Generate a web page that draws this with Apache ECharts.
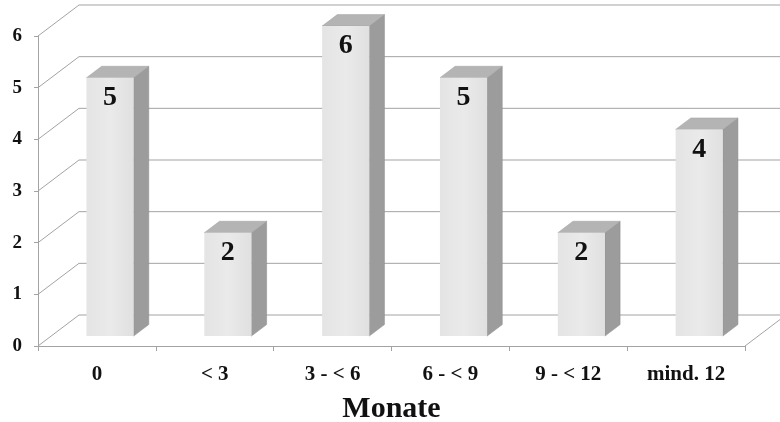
<!DOCTYPE html>
<html>
<head>
<meta charset="utf-8">
<script src="https://cdn.jsdelivr.net/npm/echarts@6/dist/echarts.min.js"></script>
<style>
  html, body { margin: 0; padding: 0; background: #ffffff; }
  #chart { width: 780px; height: 422px; }
</style>
</head>
<body>
<div id="chart"></div>
<script>
// Duration groups (months) and number of cases in each
const categories = ['0', '< 3', '3 - < 6', '6 - < 9', '9 - < 12', 'mind. 12'];
const counts = [5, 2, 6, 5, 2, 4];
const yTicks = [0, 1, 2, 3, 4, 5, 6];

const FONT = '"Liberation Serif", "Times New Roman", serif';
// Oblique depth of the 3D box (pixels from front plane to back wall)
const DEPTH_X = 41;
const DEPTH_Y = -31;
const LINE_COLOR = '#a3a3a3';

const chart = echarts.init(document.getElementById('chart'), null, { renderer: 'canvas' });

// Side wall diagonals, back-wall gridlines and the floor outline
function renderWalls(params, api) {
  const cs = params.coordSys;
  const v = api.value(1);
  const p = api.coord([0, v]);
  const x0 = cs.x;
  const y = p[1];
  const right = api.getWidth() + 50;
  const style = { stroke: LINE_COLOR, lineWidth: 1, fill: null };
  const children = [
    { type: 'polyline', shape: { points: [[x0, y], [x0 + DEPTH_X, y + DEPTH_Y], [right, y + DEPTH_Y]] }, style: style, silent: true }
  ];
  if (v === 0) {
    const xr = cs.x + cs.width;
    children.push({ type: 'line', shape: { x1: xr, y1: y, x2: xr + DEPTH_X * 1.6, y2: y + DEPTH_Y * 1.6 }, style: style, silent: true });
  }
  return { type: 'group', children: children };
}

// Box-shaped bars standing in the middle of the floor depth
function renderBar(params, api) {
  const idx = api.value(0);
  const val = api.value(1);
  const top = api.coord([idx, val]);
  const base = api.coord([idx, 0]);
  const cw = api.size([1, 0])[0];
  const w = cw * 0.4;
  const ox = DEPTH_X * 0.32, oy = DEPTH_Y * 0.32;
  const dx = DEPTH_X * 0.37, dy = DEPTH_Y * 0.37;
  const xL = top[0] - w / 2 + ox;
  const xR = xL + w;
  const yT = top[1] + oy;
  const yB = base[1] + oy;
  return {
    type: 'group',
    children: [
      { type: 'polygon', shape: { points: [[xR, yT], [xR + dx, yT + dy], [xR + dx, yB + dy], [xR, yB]] },
        style: { fill: '#9c9c9c', stroke: '#8a8a8a', lineWidth: 0.5 } },
      { type: 'polygon', shape: { points: [[xL, yT], [xL + dx, yT + dy], [xR + dx, yT + dy], [xR, yT]] },
        style: { fill: '#b4b4b4', stroke: '#a0a0a0', lineWidth: 0.5 } },
      { type: 'rect', shape: { x: xL, y: yT, width: w, height: yB - yT },
        style: { fill: new echarts.graphic.LinearGradient(0, 0, 1, 0, [
          { offset: 0, color: '#e4e4e4' }, { offset: 0.5, color: '#eaeaea' }, { offset: 1, color: '#e0e0e0' }
        ]) } },
      { type: 'text', x: xL + w / 2, y: yT + 20,
        style: { text: String(val), font: 'bold 28px ' + FONT, fill: '#111111', align: 'center', verticalAlign: 'middle' } }
    ]
  };
}

chart.setOption({
  animation: false,
  backgroundColor: '#ffffff',
  grid: { left: 38, right: 35, top: 36, bottom: 76, outerBoundsMode: 'none', containLabel: false },
  xAxis: {
    type: 'category',
    data: categories,
    boundaryGap: true,
    axisLine: { show: true, lineStyle: { color: LINE_COLOR, width: 1 } },
    axisTick: { show: true, length: 5, interval: 0, lineStyle: { color: LINE_COLOR } },
    axisLabel: { color: '#111111', fontFamily: FONT, fontWeight: 'bold', fontSize: 21, margin: 18, interval: 0 },
    name: 'Monate',
    nameLocation: 'middle',
    nameGap: 48,
    nameTextStyle: { color: '#111111', fontFamily: FONT, fontWeight: 'bold', fontSize: 30 }
  },
  yAxis: {
    type: 'value',
    min: 0,
    max: 6,
    interval: 1,
    axisLine: { show: true, lineStyle: { color: LINE_COLOR, width: 1 } },
    axisTick: { show: true, length: 4, lineStyle: { color: LINE_COLOR } },
    splitLine: { show: false },
    axisLabel: {
      color: '#111111', fontFamily: FONT, fontWeight: 'bold', fontSize: 19, margin: 16,
      formatter: function (v) { return yTicks.indexOf(v) >= 0 ? String(v) : ''; }
    }
  },
  series: [
    {
      type: 'custom',
      renderItem: renderWalls,
      data: yTicks.map(function (v) { return [0, v]; }),
      clip: false,
      z: 1,
      silent: true
    },
    {
      type: 'custom',
      renderItem: renderBar,
      data: counts.map(function (v, i) { return [i, v]; }),
      clip: false,
      z: 2
    }
  ]
});
</script>
</body>
</html>
